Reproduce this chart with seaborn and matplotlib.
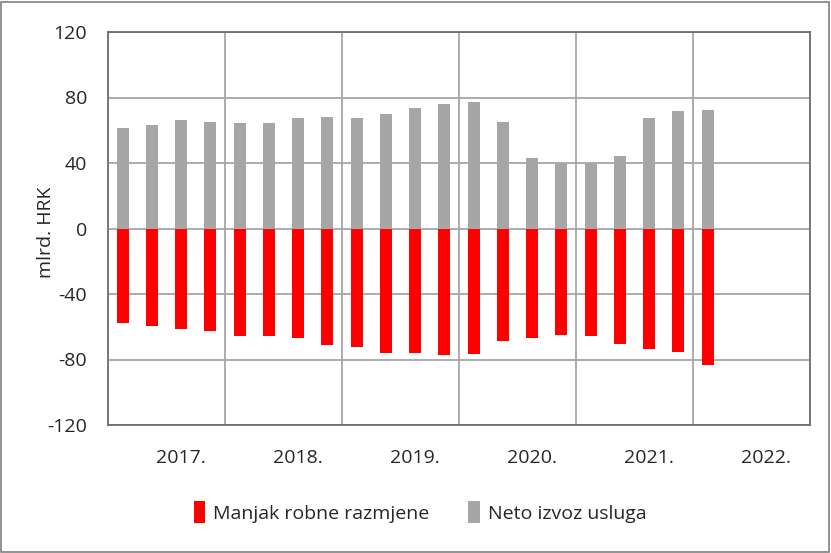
import matplotlib
matplotlib.use("Agg")
import matplotlib.pyplot as plt
import seaborn as sns
import pandas as pd
from matplotlib.patches import Patch, Rectangle

# ---- data (mlrd. HRK), quarterly 2017Q1 - 2022Q1 ----
year_labels = ["2017.", "2018.", "2019.", "2020.", "2021.", "2022."]
quarters = [f"{y}Q{q}" for y in range(2017, 2023) for q in range(1, 5)]
deficit = [-58.0, -59.7, -61.3, -62.5, -65.4, -65.8, -67.0, -71.1,
           -72.1, -76.0, -76.2, -77.0, -76.4, -68.6, -66.6, -64.8,
           -65.4, -70.3, -73.7, -75.4, -83.1]
services = [61.4, 63.4, 66.3, 65.2, 64.4, 64.6, 67.5, 68.3,
            67.3, 69.7, 73.8, 76.0, 77.4, 65.2, 43.1, 40.0,
            40.0, 44.3, 67.5, 72.0, 72.4]
series_names = ["Manjak robne razmjene", "Neto izvoz usluga"]
colors = ["#ff0000", "#a6a6a6"]

n = len(deficit)
df = pd.DataFrame({
    "kvartal": quarters[:n] * 2,
    "serija": [series_names[0]] * n + [series_names[1]] * n,
    "vrijednost": deficit + services,
})

sns.set_theme(style="white")
plt.rcParams['font.family'] = ['Open Sans', 'DejaVu Sans']
FS = 14

W, H = 831, 553
fig = plt.figure(figsize=(W / 100, H / 100), dpi=100)
ax = fig.add_axes([108 / W, 1 - 425 / H, (810 - 108) / W, (425 - 32) / H])

sns.barplot(data=df, x="kvartal", y="vrijednost", hue="serija",
            order=quarters, hue_order=series_names,
            palette=dict(zip(series_names, colors)), saturation=1,
            dodge=False, width=0.41, linewidth=0, errorbar=None,
            legend=False, ax=ax, zorder=3)

ax.set_xlim(-0.5, len(quarters) - 0.5)
ax.set_ylim(-120, 120)
ax.set_yticks(range(-120, 121, 40))
ax.set_yticklabels([str(v) for v in range(-120, 121, 40)], fontsize=FS)

ax.set_xticks([2 + 4 * i for i in range(len(year_labels))])
ax.set_xticklabels(year_labels, fontsize=FS)
ax.set_xticks([-0.5 + 4 * i for i in range(len(year_labels) + 1)], minor=True)
ax.set_xlabel("")
ax.set_ylabel("mlrd. HRK", fontsize=FS)
ax.yaxis.set_label_coords((55 - 108) / (810 - 108), 0.49)

ax.tick_params(axis="both", which="both", length=0)
ax.tick_params(axis="y", pad=15)
ax.tick_params(axis="x", pad=17)

ax.grid(False)
ax.yaxis.grid(True, color="#a6a6a6", linewidth=1.3, zorder=0)
ax.xaxis.grid(True, which="minor", color="#a6a6a6", linewidth=1.3, zorder=0)
ax.set_axisbelow(True)

for s in ax.spines.values():
    s.set_visible(True)
    s.set_color("#6e6e6e")
    s.set_linewidth(1.3)

handles = [Patch(facecolor=c, edgecolor="none") for c in colors]
fig.legend(handles, series_names, loc="center", bbox_to_anchor=(420 / W, 1 - 512 / H),
           ncol=2, frameon=False, fontsize=FS, handlelength=0.6, handleheight=1.3,
           handletextpad=0.4, columnspacing=2.0)

fig.patches.append(Rectangle((1 / W, 1 / H), (W - 3) / W, (H - 3) / H,
                             transform=fig.transFigure, fill=False,
                             edgecolor="#7f7f7f", linewidth=1.2))

fig.savefig("out.png", dpi=100)
